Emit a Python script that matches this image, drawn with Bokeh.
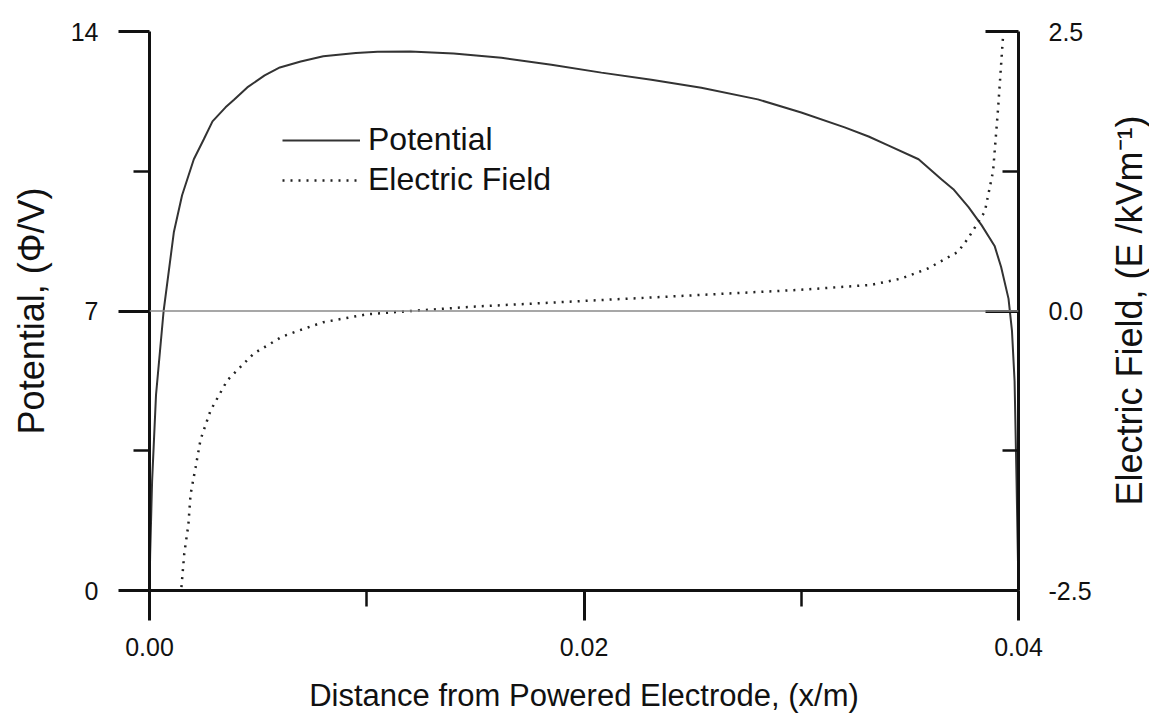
import math
from bokeh.plotting import figure
from bokeh.models import (Range1d, LinearAxis, FixedTicker, PrintfTickFormatter,
                          Span, Legend, LegendItem, Label)
from bokeh.embed import file_html
from bokeh.resources import INLINE

# Potential curve (x in m, phi in V)
pot_x = [0.0, 0.00003, 0.00012, 0.0003, 0.00065, 0.00112, 0.0015, 0.00204, 0.0025,
         0.0029, 0.0035, 0.00389, 0.0045, 0.0053, 0.006, 0.00696, 0.008, 0.0095,
         0.0105, 0.012, 0.014, 0.0162, 0.0185, 0.0208, 0.0231, 0.0254, 0.028,
         0.03, 0.032, 0.0331, 0.034, 0.0354, 0.03645, 0.037, 0.0377, 0.0383,
         0.0389, 0.0392, 0.03954, 0.0397, 0.03982, 0.03991, 0.04]
pot_y = [0.0, 0.9, 2.74, 4.9, 7.0, 8.97, 9.9, 10.8, 11.3,
         11.75, 12.1, 12.29, 12.6, 12.9, 13.1, 13.25, 13.38, 13.46,
         13.49, 13.5, 13.45, 13.34, 13.17, 12.97, 12.79, 12.59, 12.3,
         11.97, 11.6, 11.37, 11.15, 10.8, 10.3, 10.05, 9.6, 9.15,
         8.63, 8.1, 7.31, 6.5, 5.24, 2.74, 0.0]

# Electric field curve (x in m, E in kV/m)
ef_x = [0.00147, 0.0016, 0.00179, 0.00189, 0.00212, 0.00235, 0.00281, 0.00358,
        0.0048, 0.0061, 0.0068, 0.008, 0.01, 0.012, 0.015, 0.02, 0.025, 0.03,
        0.03323, 0.0346, 0.03583, 0.03722, 0.03768, 0.03845, 0.03883, 0.03906, 0.03929]
ef_y = [-2.47, -2.17, -1.91, -1.64, -1.40, -1.15, -0.89, -0.62,
        -0.38, -0.23, -0.18, -0.10, -0.03, 0.0, 0.04, 0.09, 0.14, 0.19,
        0.234, 0.29, 0.38, 0.53, 0.65, 0.89, 1.25, 1.81, 2.46]

x_ticks = [0.0, 0.02, 0.04]
x_minor = [0.01, 0.03]
phi_ticks = [0, 7, 14]
phi_minor = [3.5, 10.5]
e_ticks = [-2.5, 0.0, 2.5]
e_minor = [-1.25, 1.25]

FONT = "Liberation Sans"
INK = "#111111"

p = figure(width=1149, height=715, output_backend="svg", toolbar_location=None,
           x_range=Range1d(0, 0.04), y_range=Range1d(0, 14),
           min_border_left=149, min_border_right=131, min_border_top=31,
           min_border_bottom=122, x_axis_location=None, y_axis_location=None)
p.outline_line_color = None
p.grid.visible = False
p.background_fill_color = "white"
p.border_fill_color = "white"
p.extra_y_ranges = {"E": Range1d(-2.5, 2.5)}

def style(ax, tick_size, title_size):
    ax.axis_line_width = 3
    ax.axis_line_color = INK
    ax.major_tick_line_width = 3
    ax.major_tick_line_color = INK
    ax.minor_tick_line_width = 2.5
    ax.minor_tick_line_color = INK
    ax.major_label_text_font = FONT
    ax.major_label_text_font_size = tick_size
    ax.major_label_text_color = INK
    ax.axis_label_text_font = FONT
    ax.axis_label_text_font_size = title_size
    ax.axis_label_text_font_style = "normal"
    ax.axis_label_text_color = INK

xax = LinearAxis(ticker=FixedTicker(ticks=x_ticks, minor_ticks=x_minor),
                 formatter=PrintfTickFormatter(format="%.2f"),
                 axis_label="Distance from Powered Electrode, (x/m)")
style(xax, "25px", "31px")
xax.major_tick_in = 0
xax.major_tick_out = 30
xax.minor_tick_in = 0
xax.minor_tick_out = 16
xax.major_label_standoff = 17
xax.axis_label_standoff = 19
p.add_layout(xax, "below")

lax = LinearAxis(ticker=FixedTicker(ticks=phi_ticks, minor_ticks=phi_minor),
                 axis_label="Potential, (Φ/V)")
style(lax, "25px", "36px")
lax.major_tick_in = 0
lax.major_tick_out = 31
lax.minor_tick_in = 0
lax.minor_tick_out = 16
lax.major_label_standoff = 20
lax.axis_label_standoff = 16
p.add_layout(lax, "left")

rax = LinearAxis(y_range_name="E",
                 ticker=FixedTicker(ticks=e_ticks, minor_ticks=e_minor),
                 formatter=PrintfTickFormatter(format="%.1f"))
style(rax, "25px", "36px")
rax.major_tick_in = 33
rax.major_tick_out = 0
rax.minor_tick_in = 16
rax.minor_tick_out = 0
rax.major_label_standoff = 30
p.add_layout(rax, "right")

# Right axis title, reading bottom-to-top like the left one
rtitle = Label(x=35, y=280, x_units="screen", y_units="screen",
               text="Electric Field, (E /kVm⁻¹)", angle=math.pi / 2,
               text_align="center", text_baseline="middle",
               text_font=FONT, text_font_size="36px", text_color=INK)
p.add_layout(rtitle, "right")

zero = Span(location=0.0, dimension="width", y_range_name="E",
            line_color="#8a8a8a", line_width=1.5)
p.add_layout(zero)

r_pot = p.line(pot_x, pot_y, line_color="#333333", line_width=2)
r_ef = p.line(ef_x, ef_y, y_range_name="E", line_color="#222222",
              line_width=2.5, line_dash="2 6")

legend = Legend(items=[LegendItem(label="Potential", renderers=[r_pot]),
                       LegendItem(label="Electric Field", renderers=[r_ef])],
                location=(133, 392), orientation="vertical",
                glyph_width=78, glyph_height=30, label_height=30,
                spacing=3, padding=0, margin=0, label_standoff=8,
                border_line_color=None, background_fill_alpha=0,
                label_text_font=FONT, label_text_font_size="32px",
                label_text_color=INK)
p.add_layout(legend, "center")

open("out.html", "w").write(file_html(p, INLINE))
